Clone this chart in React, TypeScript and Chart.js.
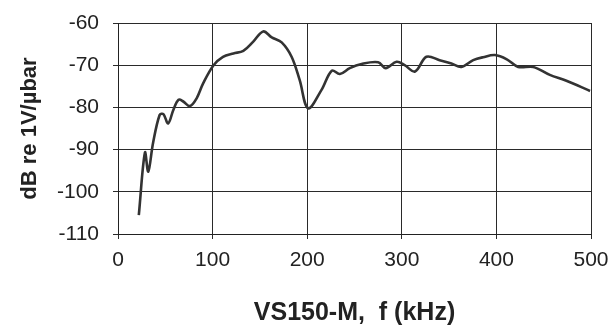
import React, { useEffect, useRef } from "react";
import { Chart, registerables } from "chart.js";

Chart.register(...registerables);

const freqKHz = [22, 28.5, 32, 37, 44, 48, 53, 58.5, 64, 69, 76, 83, 90, 101, 111, 122, 132.5, 143, 153.5, 162.5, 173, 183.5, 192, 201, 215, 226, 234.5, 245, 257.5, 275, 283, 294.5, 303, 314, 326, 340, 352.5, 363, 375.5, 386, 398.5, 411, 423, 439, 456.5, 474, 499];
const sensitivityDb = [-105.5, -90.7, -95.2, -88.5, -81.8, -81.6, -83.8, -80.6, -78.2, -78.6, -79.7, -77.9, -74.3, -70, -68, -67.2, -66.6, -64.4, -62, -63.4, -64.6, -68, -73.5, -80.2, -75.9, -71.3, -72.1, -70.7, -69.7, -69.3, -70.7, -69.2, -70, -71.5, -68, -68.8, -69.6, -70.4, -68.8, -68.1, -67.6, -68.6, -70.4, -70.4, -72.3, -73.7, -76.1];

const xTickValues = [0, 100, 200, 300, 400, 500];
const yTickValues = [-110, -100, -90, -80, -70, -60];
const xTitle = "VS150-M,  f (kHz)";
const yTitle = "dB re 1V/\u00b5bar";

export default function App() {
  const ref = useRef<HTMLCanvasElement | null>(null);

  useEffect(() => {
    if (!ref.current) return;
    const points = freqKHz.map((f, i) => ({ x: f, y: sensitivityDb[i] }));
    const font = "'Liberation Sans', Arial, sans-serif";
    const chart = new Chart(ref.current, {
      type: "line",
      data: {
        datasets: [
          {
            data: points,
            borderColor: "#333333",
            borderWidth: 2.6,
            pointRadius: 0,
            tension: 0.35,
            fill: false,
          },
        ],
      },
      options: {
        animation: false,
        responsive: false,
        maintainAspectRatio: false,
        layout: { padding: { top: 23, right: 22, bottom: 0, left: 0 } },
        plugins: { legend: { display: false }, tooltip: { enabled: false } },
        scales: {
          x: {
            type: "linear",
            min: 0,
            max: 500,
            afterBuildTicks: (s: any) => {
              s.ticks = xTickValues.map((v) => ({ value: v }));
            },
            afterFit: (s: any) => {
              s.height = 92;
              s.paddingLeft = 0;
              s.paddingRight = 0;
            },
            grid: { color: "#2a2a2a", lineWidth: 1, tickLength: 5, drawTicks: true },
            border: { color: "#222222", width: 1 },
            ticks: {
              color: "#222222",
              font: { family: font, size: 21 },
              padding: 9,
              maxRotation: 0,
            },
            title: {
              display: true,
              text: xTitle,
              color: "#222222",
              font: { family: font, size: 25, weight: "bold", lineHeight: 1 },
              padding: { top: 0, bottom: 0 },
            },
          },
          y: {
            type: "linear",
            min: -110,
            max: -60,
            afterBuildTicks: (s: any) => {
              s.ticks = yTickValues.map((v) => ({ value: v }));
            },
            afterFit: (s: any) => {
              s.width = 118;
              s.paddingTop = 0;
              s.paddingBottom = 0;
            },
            grid: { color: "#2a2a2a", lineWidth: 1, tickLength: 5, drawTicks: true },
            border: { color: "#222222", width: 1 },
            ticks: {
              color: "#222222",
              font: { family: font, size: 21 },
              padding: 14,
            },
            title: {
              display: true,
              text: yTitle,
              color: "#222222",
              font: { family: font, size: 22, weight: "bold", lineHeight: 1.2 },
              padding: { top: 17, bottom: 0 },
            },
          },
        },
      },
    });
    return () => chart.destroy();
  }, []);

  return (
    <div style={{ position: "fixed", left: 0, top: 0, width: 613, height: 326, background: "#fff" }}>
      <canvas ref={ref} width={613} height={326} style={{ width: 613, height: 326, display: "block" }} />
    </div>
  );
}
